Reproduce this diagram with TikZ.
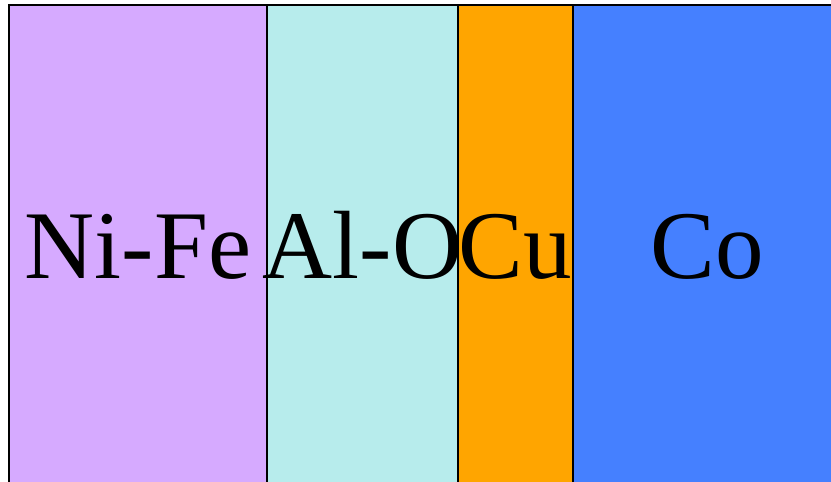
\documentclass[tikz,border=0pt]{standalone}
\usepackage{fontspec}
\setmainfont{Liberation Serif}
\usetikzlibrary{positioning}
\definecolor{nifecol}{HTML}{D6AAFF}
\definecolor{alocol}{HTML}{B7ECEC}
\definecolor{cucol}{HTML}{FFA500}
\definecolor{cocol}{HTML}{4580FF}
\tikzset{
	layer/.style={draw,rectangle,line width=1.4pt,anchor=north west,minimum height=500pt,inner sep=0pt,outer sep=0pt},
	lbl/.style={anchor=base,inner sep=0pt,font=\fontsize{97}{97}\selectfont},
}

\begin{document}
\begin{tikzpicture}[x=1pt,y=1pt]
	\useasboundingbox (0,0) rectangle (831,482);
	\clip (0,0) rectangle (831,482);
	
	% Layers
	\node[layer,fill=nifecol,minimum width=258pt] (nife) at (9,477) {};
	\node[layer,fill=alocol,minimum width=191pt] (alo) at (nife.north east) {};
	\node[layer,fill=cucol,minimum width=115pt] (cu) at (alo.north east) {};
	\node[layer,fill=cocol,minimum width=268pt] (co) at (cu.north east) {};
	
	% Labels
	\coordinate (base) at (0,203);
	\node[lbl] (tnife) at (nife.center |- base) {Ni-Fe};
	\node[lbl] (talo) at (alo.center |- base) {Al-O};
	\node[lbl] (tcu) at (cu.center |- base) {Cu};
	\node[lbl] (tco) at (co.center |- base) {Co};
\end{tikzpicture}
\end{document}
